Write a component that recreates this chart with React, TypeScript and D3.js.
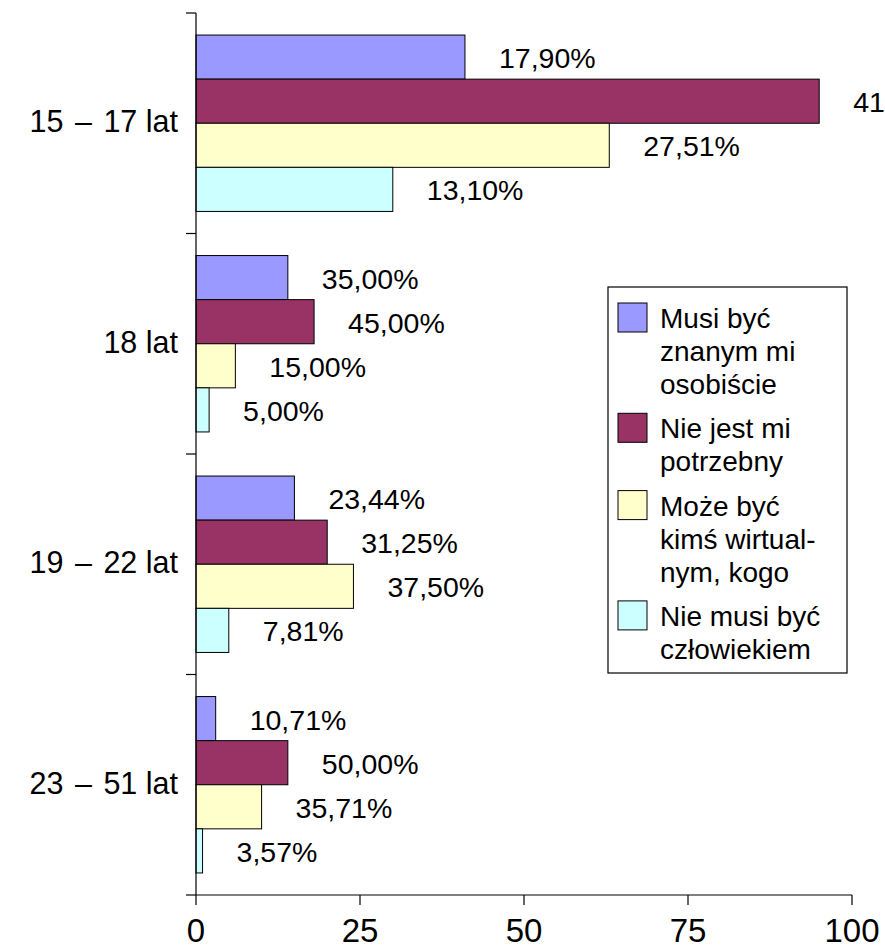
import React from "react";
import * as d3 from "d3";

const categories = ["15 – 17 lat", "18 lat", "19 – 22 lat", "23 – 51 lat"];
const seriesNames = [
  ["Musi być", "znanym mi", "osobiście"],
  ["Nie jest mi", "potrzebny"],
  ["Może być", "kimś wirtual-", "nym, kogo"],
  ["Nie musi być", "człowiekiem"],
];
const seriesColors = ["#9999FF", "#993366", "#FFFFCC", "#CCFFFF"];
// counts per category for each series
const musiByc = [41, 14, 15, 3];
const nieJest = [95, 18, 20, 14];
const mozeByc = [63, 6, 24, 10];
const nieMusi = [30, 2, 5, 1];
// labels per category for each series
const musiBycLabels = ["17,90%", "35,00%", "23,44%", "10,71%"];
const nieJestLabels = ["41,48%", "45,00%", "31,25%", "50,00%"];
const mozeBycLabels = ["27,51%", "15,00%", "37,50%", "35,71%"];
const nieMusiLabels = ["13,10%", "5,00%", "7,81%", "3,57%"];
const xTicks = [0, 25, 50, 75, 100];

const seriesValues = [musiByc, nieJest, mozeByc, nieMusi];
const seriesLabels = [musiBycLabels, nieJestLabels, mozeBycLabels, nieMusiLabels];

const W = 885;
const H = 949;
const FONT = "'Liberation Sans', Arial, Helvetica, sans-serif";

function CategoryLabel({ text, x, y }: { text: string; x: number; y: number }) {
  const parts = text.split(" – ");
  if (parts.length === 2) {
    return (
      <text x={x} y={y} textAnchor="end" fontSize={30.5} fill="#000">
        {parts[0] + " "}
        <tspan dx={3}>–</tspan>
        <tspan dx={3}>{" " + parts[1]}</tspan>
      </text>
    );
  }
  return (
    <text x={x} y={y} textAnchor="end" fontSize={30.5} fill="#000">
      {text}
    </text>
  );
}

export default function App() {
  const x = d3.scaleLinear().domain([0, 100]).range([196, 852]);
  const y = d3.scaleBand<string>().domain(categories).range([13, 895]).padding(0);
  const inner = d3
    .scaleBand<number>()
    .domain([0, 1, 2, 3])
    .range([0, y.bandwidth()])
    .paddingInner(0)
    .paddingOuter(0.5);

  const legendX = 608;
  const legendY = 287;
  const legendW = 239;
  const legendH = 386;
  const lineH = 33;
  const entryGap = 11.3;
  let cursor = 328;
  const legendEntries = seriesNames.map((lines, i) => {
    const base = cursor;
    cursor += lines.length * lineH + entryGap;
    return { lines, base, color: seriesColors[i] };
  });

  return (
    <svg
      width={W}
      height={H}
      style={{ position: "absolute", left: 0, top: 0, overflow: "hidden", background: "#fff" }}
      fontFamily={FONT}
    >
      <rect x={0} y={0} width={W} height={H} fill="#fff" />
      {/* bars */}
      {categories.map((cat, ci) => (
        <g key={cat}>
          {seriesValues.map((vals, si) => {
            const by = (y(cat) as number) + (inner(si) as number);
            const bh = inner.bandwidth();
            return (
              <rect
                key={si}
                x={x(0)}
                y={by}
                width={x(vals[ci]) - x(0)}
                height={bh}
                fill={seriesColors[si]}
                stroke="#000"
                strokeWidth={1}
              />
            );
          })}
        </g>
      ))}
      {/* data labels */}
      {categories.map((cat, ci) => (
        <g key={"l" + cat}>
          {seriesLabels.map((labs, si) => {
            const by = (y(cat) as number) + (inner(si) as number) + inner.bandwidth() / 2;
            return (
              <text
                key={si}
                x={x(seriesValues[si][ci]) + 34}
                y={by + 11}
                fontSize={28.5}
                fill="#000"
              >
                {labs[ci]}
              </text>
            );
          })}
        </g>
      ))}
      {/* y axis */}
      <line x1={x(0)} x2={x(0)} y1={13} y2={895} stroke="#000" strokeWidth={1.2} />
      {[...categories.map((c) => y(c) as number), 895].map((v, i) => (
        <line key={i} x1={x(0) - 10} x2={x(0)} y1={v} y2={v} stroke="#000" strokeWidth={1.2} />
      ))}
      {categories.map((c) => (
        <CategoryLabel key={c} text={c} x={178} y={(y(c) as number) + y.bandwidth() / 2 + 9} />
      ))}
      {/* x axis */}
      <line x1={x(0)} x2={x(100)} y1={895} y2={895} stroke="#000" strokeWidth={1.2} />
      {xTicks.map((t) => (
        <g key={t}>
          <line x1={x(t)} x2={x(t)} y1={895} y2={905} stroke="#000" strokeWidth={1.2} />
          <text x={x(t)} y={942} textAnchor="middle" fontSize={33} fill="#000">
            {t}
          </text>
        </g>
      ))}
      {/* legend */}
      <rect
        x={legendX}
        y={legendY}
        width={legendW}
        height={legendH}
        fill="#fff"
        stroke="#000"
        strokeWidth={1.2}
      />
      {legendEntries.map((e, i) => (
        <g key={i}>
          <rect x={618} y={e.base - 25} width={29} height={29} fill={e.color} stroke="#000" strokeWidth={1} />
          {e.lines.map((ln, li) => (
            <text key={li} x={660} y={e.base + li * lineH} fontSize={28} fill="#000">
              {ln}
            </text>
          ))}
        </g>
      ))}
    </svg>
  );
}
